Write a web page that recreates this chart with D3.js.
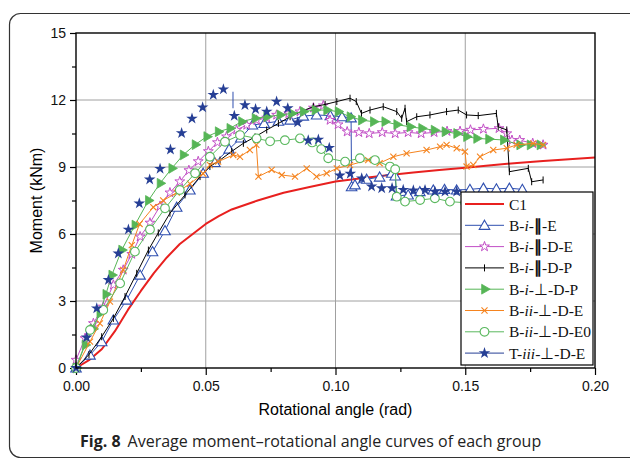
<!DOCTYPE html>
<html>
<head>
<meta charset="utf-8">
<script src="https://cdn.jsdelivr.net/npm/d3@7"></script>
<style>
  body { margin: 0; background: #fff; }
  svg { display: block; }
</style>
</head>
<body>
<script>
// angle (rad), moment (kNm)
var c1 = [[0,0],[0.005,0.35],[0.01,0.85],[0.015,1.65],[0.02,2.6],[0.025,3.45],[0.03,4.25],[0.035,4.95],[0.04,5.55],[0.045,6.0],[0.05,6.45],[0.055,6.8],[0.06,7.1],[0.07,7.5],[0.08,7.85],[0.09,8.1],[0.10,8.35],[0.11,8.5],[0.12,8.63],[0.13,8.75],[0.14,8.87],[0.15,8.97],[0.16,9.08],[0.17,9.18],[0.18,9.27],[0.19,9.35],[0.2,9.42]];

var bIParE = [[0,0],[0.0054,0.58],[0.0099,1.18],[0.0144,2.15],[0.0195,3.04],[0.0247,4.16],[0.0295,5.21],[0.0343,6.15],[0.0388,7.2],[0.0439,7.97],[0.049,8.72],[0.0535,9.2],[0.059,9.8],[0.0635,10.3],[0.068,10.88],[0.0725,10.95],[0.078,11.05],[0.0825,11.1],[0.0876,11.28],[0.0927,11.33],[0.098,11.3],[0.1025,11.25],[0.106,11.2],[0.1062,8.12],[0.1075,8.2],[0.112,8.45],[0.117,8.55],[0.1217,8.72],[0.123,8.6],[0.1235,7.7],[0.128,7.75],[0.1325,7.9],[0.1377,7.97],[0.142,8.0],[0.1467,7.97],[0.1518,8.0],[0.157,8.05],[0.162,8.02],[0.167,8.05],[0.172,8.0]];

var bIParDE = [[0,0.36],[0.0035,1.33],[0.0067,2.0],[0.0105,2.74],[0.0144,3.72],[0.0182,4.39],[0.0215,5.1],[0.0247,5.88],[0.0285,6.5],[0.0324,7.25],[0.0362,7.85],[0.04,8.35],[0.0435,8.85],[0.0471,9.25],[0.051,9.7],[0.0545,10.1],[0.058,10.36],[0.0619,10.66],[0.0658,10.88],[0.0696,11.1],[0.0735,11.2],[0.0773,11.33],[0.082,11.4],[0.0863,11.48],[0.0915,11.65],[0.0953,11.75],[0.0979,11.1],[0.101,10.9],[0.1045,10.58],[0.109,10.55],[0.113,10.5],[0.118,10.55],[0.123,10.5],[0.128,10.55],[0.133,10.5],[0.138,10.55],[0.143,10.6],[0.148,10.6],[0.152,10.66],[0.157,10.7],[0.163,10.73],[0.166,10.5],[0.168,10.2],[0.171,10.2],[0.176,10.06],[0.18,9.99]];

var bIParDP = [[0,0],[0.005,0.6],[0.0099,1.4],[0.0144,2.22],[0.0189,3.2],[0.0234,4.24],[0.0279,5.28],[0.0317,6.05],[0.0362,6.93],[0.042,7.75],[0.0478,8.57],[0.0516,9.02],[0.0555,9.31],[0.06,9.7],[0.0645,10.06],[0.069,10.35],[0.0735,10.66],[0.078,10.95],[0.0825,11.25],[0.087,11.5],[0.0915,11.7],[0.096,11.8],[0.1005,11.93],[0.1056,12.08],[0.108,11.93],[0.110,11.4],[0.1133,11.55],[0.1184,11.7],[0.1236,11.48],[0.1255,11.18],[0.1268,11.63],[0.1274,11.03],[0.1313,11.25],[0.1364,11.33],[0.1428,11.48],[0.1473,11.55],[0.1505,11.33],[0.155,11.3],[0.162,11.4],[0.1627,10.8],[0.166,10.66],[0.167,8.79],[0.1743,8.94],[0.1756,8.34],[0.18,8.42]];

var bIPerpDP = [[0,0],[0.0035,1.03],[0.0065,1.75],[0.0092,2.45],[0.0115,3.3],[0.0138,4.16],[0.0176,5.28],[0.0227,6.4],[0.0279,7.5],[0.0324,8.27],[0.0369,8.94],[0.0413,9.54],[0.0459,10.0],[0.0504,10.36],[0.0548,10.58],[0.0593,10.73],[0.0638,11.03],[0.069,11.18],[0.0735,11.25],[0.0786,11.33],[0.0831,11.4],[0.0876,11.48],[0.0921,11.55],[0.0966,11.55],[0.101,11.48],[0.1056,11.25],[0.110,11.1],[0.1146,11.03],[0.119,11.03],[0.1236,10.9],[0.1287,10.8],[0.1332,10.73],[0.138,10.65],[0.1422,10.58],[0.1467,10.5],[0.1505,10.36],[0.1544,10.28],[0.159,10.25],[0.1647,10.21],[0.171,9.99],[0.175,9.99],[0.1788,9.99]];

var bIiPerpDE = [[0,0],[0.0054,1.18],[0.0092,2.0],[0.0131,2.97],[0.0182,4.39],[0.0215,5.5],[0.0245,6.45],[0.0298,7.2],[0.0336,7.5],[0.0388,7.85],[0.0439,8.25],[0.049,8.7],[0.0516,9.09],[0.0548,9.24],[0.0606,9.54],[0.0632,9.46],[0.067,9.76],[0.0695,9.99],[0.0703,8.57],[0.0754,8.87],[0.0793,8.64],[0.0844,8.57],[0.0889,8.94],[0.0927,8.57],[0.0966,8.72],[0.1005,8.94],[0.1056,9.09],[0.1126,9.31],[0.117,9.17],[0.1223,9.46],[0.1274,9.61],[0.1351,9.76],[0.1403,9.91],[0.1428,9.99],[0.1467,9.84],[0.1499,9.69],[0.1505,9.02],[0.1531,9.09],[0.1557,9.46],[0.1608,9.76],[0.166,9.84],[0.1698,9.99],[0.1762,10.06],[0.18,9.99]];

var bIiPerpDE0 = [[0,0],[0.0054,1.7],[0.0105,2.6],[0.017,3.79],[0.0227,5.21],[0.0285,6.2],[0.0343,7.15],[0.04,7.97],[0.0459,8.72],[0.0516,9.46],[0.0574,10.13],[0.0632,10.43],[0.0696,10.28],[0.0748,10.15],[0.0805,10.2],[0.0863,10.28],[0.091,10.1],[0.0945,9.8],[0.0972,9.39],[0.1037,9.24],[0.1094,9.39],[0.1152,9.31],[0.121,9.02],[0.123,8.9],[0.1236,7.67],[0.1268,7.45],[0.1326,7.52],[0.1383,7.6],[0.1441,7.45],[0.15,7.4],[0.156,7.4]];

var tIiiPerpDE = [[0,0],[0.0041,1.37],[0.008,2.67],[0.0125,3.94],[0.0163,5.13],[0.0202,6.2],[0.0244,7.37],[0.0284,8.44],[0.0324,8.92],[0.0364,9.78],[0.0407,10.52],[0.0447,11.17],[0.0488,11.67],[0.0529,12.23],[0.0568,12.48],[0.061,11.29],[0.0651,11.77],[0.0692,11.59],[0.0735,11.48],[0.0773,11.93],[0.0816,11.63],[0.0854,11.0],[0.0895,10.19],[0.0934,10.23],[0.0976,9.86],[0.1017,8.62],[0.1057,8.7],[0.1101,8.49],[0.1139,8.13],[0.1178,8.05],[0.1218,8.05],[0.1261,7.98],[0.13,7.95],[0.1345,7.97],[0.1383,7.9],[0.1422,7.9],[0.1467,7.9]];
// short visible drop of the T-iii trace
var tIiiDrop = [[0.0605,12.37],[0.0605,11.63]];

var xTicks = [0, 0.05, 0.10, 0.15, 0.20];
var yTicks = [0, 3, 6, 9, 12, 15];

var svgWidth = 630;
var svgHeight = 461;
var margin = { top: 33, right: 35, bottom: 93, left: 76 };
var width = svgWidth - margin.left - margin.right;
var height = svgHeight - margin.top - margin.bottom;

var svg = d3.select("body").append("svg")
    .attr("width", svgWidth)
    .attr("height", svgHeight);

// rounded figure frame
svg.append("rect")
    .attr("x", 9.5).attr("y", 13.5)
    .attr("width", 632).attr("height", 444)
    .attr("rx", 11)
    .attr("fill", "none")
    .attr("stroke", "#333")
    .attr("stroke-width", 1.2);

var chartGroup = svg.append("g")
    .attr("transform", `translate(${margin.left}, ${margin.top})`);

var xScale = d3.scaleLinear().domain([0, 0.2]).range([0, width]);
var yScale = d3.scaleLinear().domain([0, 15]).range([height, 0]);

// grid
chartGroup.append("g").selectAll("line")
    .data(xTicks.slice(1, -1)).enter().append("line")
    .attr("x1", d => xScale(d)).attr("x2", d => xScale(d))
    .attr("y1", 0).attr("y2", height)
    .attr("stroke", "#a0a0a0").attr("stroke-width", 1);
chartGroup.append("g").selectAll("line")
    .data(yTicks.slice(1, -1)).enter().append("line")
    .attr("y1", d => yScale(d)).attr("y2", d => yScale(d))
    .attr("x1", 0).attr("x2", width)
    .attr("stroke", "#a0a0a0").attr("stroke-width", 1);

// axes
var bottomAxis = d3.axisBottom(xScale).tickValues(xTicks)
    .tickFormat(d3.format(".2f")).tickSize(7).tickSizeOuter(0).tickPadding(6);
var bottomMinor = d3.axisBottom(xScale).tickValues([0.025, 0.075, 0.125, 0.175])
    .tickFormat("").tickSize(4).tickSizeOuter(0);
var leftAxis = d3.axisLeft(yScale).tickValues(yTicks)
    .tickSize(6).tickSizeOuter(0).tickPadding(4);
var leftMinor = d3.axisLeft(yScale).tickValues([1.5, 4.5, 7.5, 10.5, 13.5])
    .tickFormat("").tickSize(4).tickSizeOuter(0);

function styleAxis(g) {
    g.select(".domain").remove();
    g.selectAll("line").attr("stroke", "#000").attr("stroke-width", 1.2);
    g.selectAll("text")
        .attr("font-family", "'Liberation Sans', Arial, sans-serif")
        .attr("font-size", 14)
        .attr("fill", "#111");
}

chartGroup.append("g").attr("transform", `translate(0, ${height})`).call(bottomAxis).call(styleAxis);
chartGroup.append("g").attr("transform", `translate(0, ${height})`).call(bottomMinor).call(styleAxis);
chartGroup.append("g").call(leftAxis).call(styleAxis);
chartGroup.append("g").call(leftMinor).call(styleAxis);

// series
var series = [
    { name: "C1", data: c1, color: "#e8201f", width: 2, marker: null },
    { name: "B-i-∥-E", data: bIParE, color: "#2f4fb0", width: 1, marker: "tri" },
    { name: "B-i-∥-D-E", data: bIParDE, color: "#c24fc6", width: 1, marker: "starOpen" },
    { name: "B-i-∥-D-P", data: bIParDP, color: "#000000", width: 1, marker: "bar" },
    { name: "B-i-⊥-D-P", data: bIPerpDP, color: "#56b556", width: 1, marker: "triRight" },
    { name: "B-ii-⊥-D-E", data: bIiPerpDE, color: "#f5841f", width: 1, marker: "x" },
    { name: "B-ii-⊥-D-E0", data: bIiPerpDE0, color: "#5ab85e", width: 1, marker: "circle" },
    { name: "T-iii-⊥-D-E", data: tIiiPerpDE, color: "#263f95", width: 1, marker: "star", noLine: true }
];

var line = d3.line()
    .x(d => xScale(d[0]))
    .y(d => yScale(d[1]));

function drawMarker(sel, kind, color) {
    if (kind === "tri") {
        sel.append("path").attr("d", d3.symbol(d3.symbolTriangle, 48)())
            .attr("transform", "translate(0,1)")
            .attr("fill", "#fff").attr("stroke", color).attr("stroke-width", 1.1);
    } else if (kind === "starOpen") {
        sel.append("path").attr("d", d3.symbol(d3.symbolStar, 30)())
            .attr("fill", "#fff").attr("stroke", color).attr("stroke-width", 1);
    } else if (kind === "star") {
        sel.append("path").attr("d", d3.symbol(d3.symbolStar, 42)())
            .attr("fill", color).attr("stroke", "none");
    } else if (kind === "bar") {
        sel.append("path").attr("d", "M0,-3.5V3.5")
            .attr("stroke", color).attr("stroke-width", 1);
    } else if (kind === "triRight") {
        sel.append("path").attr("d", d3.symbol(d3.symbolTriangle, 42)())
            .attr("transform", "rotate(90)")
            .attr("fill", color).attr("stroke", color).attr("stroke-width", 0.8);
    } else if (kind === "x") {
        sel.append("path").attr("d", d3.symbol(d3.symbolX, 26)())
            .attr("fill", "none").attr("stroke", color).attr("stroke-width", 1.1);
    } else if (kind === "circle") {
        sel.append("path").attr("d", d3.symbol(d3.symbolCircle, 60)())
            .attr("fill", "#fff").attr("stroke", color).attr("stroke-width", 1.1);
    }
}

var plot = chartGroup.append("g");

series.forEach(function(s) {
    if (!s.noLine) {
        plot.append("path")
            .attr("d", line(s.data))
            .attr("fill", "none")
            .attr("stroke", s.color)
            .attr("stroke-width", s.width)
            .attr("stroke-linejoin", "round");
    }
    if (s.marker) {
        plot.append("g").selectAll("g")
            .data(s.data).enter().append("g")
            .attr("transform", d => `translate(${xScale(d[0])}, ${yScale(d[1])})`)
            .each(function() { drawMarker(d3.select(this), s.marker, s.color); });
    }
});

plot.append("path")
    .attr("d", line(tIiiDrop))
    .attr("fill", "none")
    .attr("stroke", "#2f4fb0")
    .attr("stroke-width", 1);

// plot frame
chartGroup.append("rect")
    .attr("width", width).attr("height", height)
    .attr("fill", "none").attr("stroke", "#000").attr("stroke-width", 1.4);

// axis titles
chartGroup.append("text")
    .attr("x", width / 2).attr("y", height + 47)
    .attr("text-anchor", "middle")
    .attr("font-family", "'Liberation Sans', Arial, sans-serif")
    .attr("font-size", 16)
    .text("Rotational angle (rad)");

chartGroup.append("text")
    .attr("transform", `translate(-34, ${height / 2}) rotate(-90)`)
    .attr("text-anchor", "middle")
    .attr("font-family", "'Liberation Sans', Arial, sans-serif")
    .attr("font-size", 16)
    .text("Moment (kNm)");

// legend
var legend = chartGroup.append("g")
    .attr("transform", `translate(${461 - margin.left}, ${192 - margin.top})`);
legend.append("rect")
    .attr("width", 132).attr("height", 173)
    .attr("fill", "#fff").attr("stroke", "#000").attr("stroke-width", 1.2);

var legendItems = legend.selectAll("g.item")
    .data(series).enter().append("g")
    .attr("class", "item")
    .attr("transform", (d, i) => `translate(0, ${12 + i * 21.3})`);

legendItems.append("line")
    .attr("x1", 4).attr("x2", 43)
    .attr("stroke", d => d.color)
    .attr("stroke-width", d => d.width);
legendItems.each(function(d) {
    if (d.marker) {
        var m = d3.select(this).append("g").attr("transform", "translate(23.5, 0)");
        drawMarker(m, d.marker, d.color);
    }
});

var legendText = legendItems.append("text")
    .attr("x", 48).attr("y", 5.5)
    .attr("font-family", "'Liberation Serif', 'Times New Roman', serif")
    .attr("font-size", 15.5)
    .attr("fill", "#111");

legendText.each(function(d) {
    var t = d3.select(this);
    var parts = d.name.split("-");
    if (parts.length === 1) { t.text(d.name); return; }
    parts.forEach(function(p, i) {
        if (i > 0) t.append("tspan").text("-");
        var sp = t.append("tspan").text(p);
        if (/^i+$/.test(p)) sp.attr("font-style", "italic");
        if (p === "∥") sp.attr("font-weight", "bold");
    });
});

// caption
var caption = svg.append("text")
    .attr("x", 80).attr("y", 447)
    .attr("font-family", "'Open Sans', 'Noto Sans', sans-serif")
    .attr("font-size", 16)
    .attr("fill", "#222");
caption.append("tspan").attr("font-weight", "bold").text("Fig. 8");
caption.append("tspan").attr("dx", 7).text("Average moment–rotational angle curves of each group");
</script>
</body>
</html>
